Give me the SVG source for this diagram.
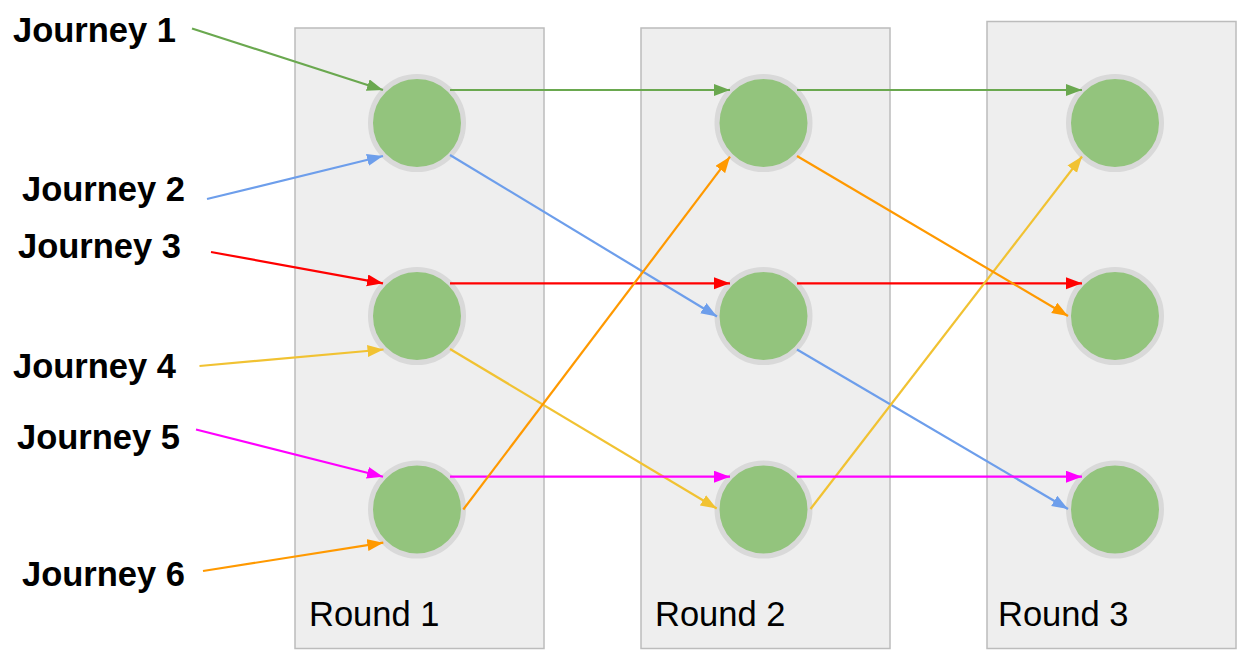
<svg xmlns="http://www.w3.org/2000/svg" width="1256" height="668" viewBox="0 0 1256 668">
<style>
.panel{fill:#eeeeee;stroke:#bcbcbc;stroke-width:1.5}
.node{fill:#93c47d;stroke:#d9d9d9;stroke-width:5}
.jl{font-family:"Liberation Sans",Arial,sans-serif;font-weight:bold;font-size:34.5px;fill:#000}
.rl{font-family:"Liberation Sans",Arial,sans-serif;font-size:34.5px;fill:#000}
.c{fill:none;stroke-width:2.2}
</style>
<defs>
<marker id="mg" markerUnits="userSpaceOnUse" markerWidth="17" markerHeight="13" refX="16" refY="6" orient="auto"><path d="M0,0L16,6L0,12z" fill="#6aa84f"/></marker>
<marker id="mb" markerUnits="userSpaceOnUse" markerWidth="17" markerHeight="13" refX="16" refY="6" orient="auto"><path d="M0,0L16,6L0,12z" fill="#6d9eeb"/></marker>
<marker id="mr" markerUnits="userSpaceOnUse" markerWidth="17" markerHeight="13" refX="16" refY="6" orient="auto"><path d="M0,0L16,6L0,12z" fill="#ff0000"/></marker>
<marker id="my" markerUnits="userSpaceOnUse" markerWidth="17" markerHeight="13" refX="16" refY="6" orient="auto"><path d="M0,0L16,6L0,12z" fill="#f1c232"/></marker>
<marker id="mm" markerUnits="userSpaceOnUse" markerWidth="17" markerHeight="13" refX="16" refY="6" orient="auto"><path d="M0,0L16,6L0,12z" fill="#ff00ff"/></marker>
<marker id="mo" markerUnits="userSpaceOnUse" markerWidth="17" markerHeight="13" refX="16" refY="6" orient="auto"><path d="M0,0L16,6L0,12z" fill="#ff9900"/></marker>
</defs>
<rect width="1256" height="668" fill="#ffffff"/>
<g id="round1">
<rect class="panel" x="295" y="28" width="249" height="620.5"/>
<text class="rl" x="309" y="626">Round 1</text>
</g>
<g id="round2">
<rect class="panel" x="641" y="28" width="249" height="620.5"/>
<text class="rl" x="655" y="626">Round 2</text>
</g>
<g id="round3">
<rect class="panel" x="987" y="21.5" width="249" height="627"/>
<text class="rl" x="998" y="626">Round 3</text>
</g>
<g id="n1a"><circle class="node" cx="417" cy="123" r="46.5"/></g>
<g id="n1b"><circle class="node" cx="417" cy="316" r="46.5"/></g>
<g id="n1c"><circle class="node" cx="417" cy="509.5" r="46.5"/></g>
<g id="n2a"><circle class="node" cx="763.5" cy="123" r="46.5"/></g>
<g id="n2b"><circle class="node" cx="763.5" cy="316" r="46.5"/></g>
<g id="n2c"><circle class="node" cx="763.5" cy="509.5" r="46.5"/></g>
<g id="n3a"><circle class="node" cx="1115" cy="123" r="46.5"/></g>
<g id="n3b"><circle class="node" cx="1115" cy="316" r="46.5"/></g>
<g id="n3c"><circle class="node" cx="1115" cy="509.5" r="46.5"/></g>
<g id="j1"><text class="jl" x="13" y="42">Journey 1</text></g>
<g id="j2"><text class="jl" x="22" y="201">Journey 2</text></g>
<g id="j3"><text class="jl" x="18" y="258">Journey 3</text></g>
<g id="j4"><text class="jl" x="13" y="378">Journey 4</text></g>
<g id="j5"><text class="jl" x="17" y="449">Journey 5</text></g>
<g id="j6"><text class="jl" x="22" y="586">Journey 6</text></g>
<g id="connectors">
<line class="c" stroke="#6aa84f" x1="192" y1="28.5" x2="383" y2="90" marker-end="url(#mg)"/>
<line class="c" stroke="#6aa84f" x1="450" y1="90" x2="730" y2="90" marker-end="url(#mg)"/>
<line class="c" stroke="#6aa84f" x1="797" y1="90" x2="1082" y2="90" marker-end="url(#mg)"/>
<line class="c" stroke="#6d9eeb" x1="207" y1="199" x2="383" y2="156" marker-end="url(#mb)"/>
<line class="c" stroke="#6d9eeb" x1="450" y1="155" x2="717" y2="316.5" marker-end="url(#mb)"/>
<line class="c" stroke="#6d9eeb" x1="797" y1="349.5" x2="1068" y2="509" marker-end="url(#mb)"/>
<line class="c" stroke="#ff0000" x1="211" y1="252" x2="383" y2="283.3" marker-end="url(#mr)"/>
<line class="c" stroke="#ff0000" x1="450" y1="283.3" x2="730" y2="283.3" marker-end="url(#mr)"/>
<line class="c" stroke="#ff0000" x1="797" y1="283.3" x2="1082" y2="283.3" marker-end="url(#mr)"/>
<line class="c" stroke="#f1c232" x1="199.5" y1="366" x2="383.5" y2="349.5" marker-end="url(#my)"/>
<line class="c" stroke="#f1c232" x1="450" y1="349" x2="716.7" y2="508.5" marker-end="url(#my)"/>
<line class="c" stroke="#f1c232" x1="810.5" y1="509" x2="1082" y2="156.5" marker-end="url(#my)"/>
<line class="c" stroke="#ff00ff" x1="196" y1="429.5" x2="383" y2="476.7" marker-end="url(#mm)"/>
<line class="c" stroke="#ff00ff" x1="450" y1="476.7" x2="730" y2="476.7" marker-end="url(#mm)"/>
<line class="c" stroke="#ff00ff" x1="797" y1="476.7" x2="1082" y2="476.7" marker-end="url(#mm)"/>
<line class="c" stroke="#ff9900" x1="203" y1="571" x2="383.3" y2="542.7" marker-end="url(#mo)"/>
<line class="c" stroke="#ff9900" x1="463.3" y1="509.5" x2="730" y2="156.7" marker-end="url(#mo)"/>
<line class="c" stroke="#ff9900" x1="797" y1="156" x2="1068" y2="316" marker-end="url(#mo)"/>
</g>
</svg>
